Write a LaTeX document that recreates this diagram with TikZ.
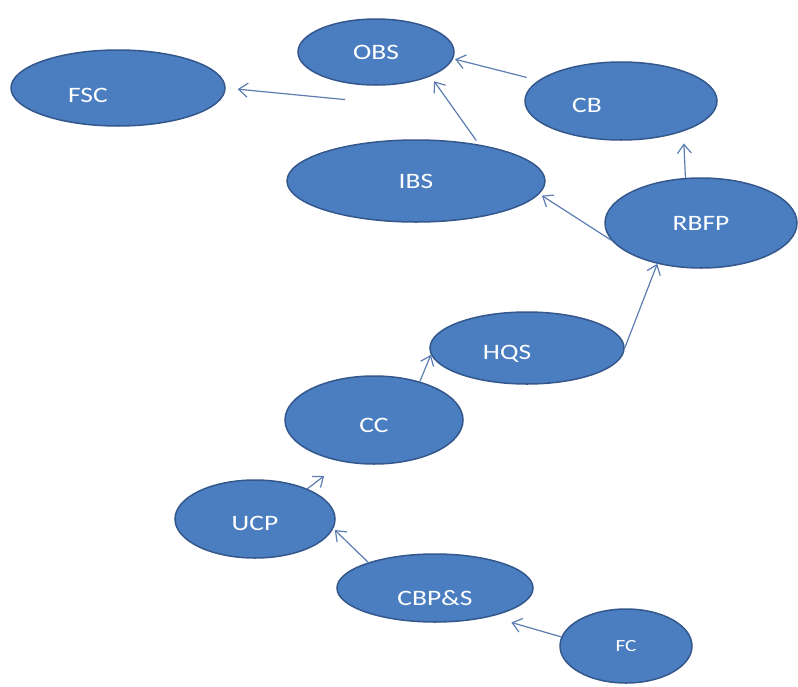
\documentclass[tikz,border=0pt]{standalone}
\usepackage{fontspec}
\setmainfont{Carlito}
\newfontfamily\blobfont[FakeStretch=1.25]{Carlito}
\usetikzlibrary{shapes}
\usetikzlibrary{arrows.meta}
\definecolor{blobfill}{HTML}{4A7EC0}
\definecolor{blobline}{HTML}{34578C}
\definecolor{linkline}{HTML}{5B7DB1}

\begin{document}
\begin{tikzpicture}[x=1pt,y=-1pt,
  blob/.style={ellipse, fill=blobfill, draw=blobline, line width=1.5pt, inner sep=0pt,
    text=white, font=\blobfont\fontsize{22}{26}\selectfont, text height=14.2pt, text depth=0pt},
  >={Straight Barb[length=9pt,width=14pt]}]

\useasboundingbox (0,0) rectangle (798,686);

\node[blob, minimum width=214pt, minimum height=76pt, text height=28pt] (fsc) at (118,88) {FSC\kern60pt};
\node[blob, minimum width=156pt, minimum height=66pt] (obs) at (376,52) {OBS};
\node[blob, minimum width=192pt, minimum height=78pt, text height=22pt] (cb) at (621,101) {CB\kern68pt};
\node[blob, minimum width=258pt, minimum height=82pt] (ibs) at (416,181) {IBS};
\node[blob, minimum width=192pt, minimum height=90pt] (rbfp) at (701,223) {RBFP};
\node[blob, minimum width=194pt, minimum height=72pt, text height=22pt] (hqs) at (527,348) {HQS\kern40pt};
\node[blob, minimum width=178pt, minimum height=88pt, text height=24pt] (cc) at (374,420) {CC};
\node[blob, minimum width=160pt, minimum height=78pt, text height=22pt] (ucp) at (255,519) {UCP};
\node[blob, minimum width=196pt, minimum height=68pt, text height=34pt] (cbps) at (435,588) {CBP\&S};
\node[blob, minimum width=132pt, minimum height=74pt, font=\blobfont\fontsize{17}{20}\selectfont, text height=11pt] (fc) at (626,646) {FC};

\begin{scope}[->, linkline, line width=1.2pt]
\draw[shorten <=12pt, shorten >=12pt] ([yshift=-16pt]obs.240) -- (fsc.east);
\draw[shorten <=12pt, shorten >=2pt] (cb.166) -- (obs.-5);
\draw[shorten <=5pt, shorten >=6pt] (ibs.30) -- (obs.-24);
\draw[shorten >=12pt] (rbfp.109) -- (cb.-26);
\draw[shorten >=3pt] (rbfp.191) -- (ibs.-6);
\draw (hqs.east) -- (rbfp.223);
\draw (cc.40) -- (hqs.184);
\draw[shorten >=23pt] (ucp.30) -- (cc.233);
\draw[shorten >=2pt] (cbps.159) -- (ucp.-7);
\draw[shorten >=21pt] (fc.172) -- (cbps.-27);
\end{scope}
\end{tikzpicture}
\end{document}
